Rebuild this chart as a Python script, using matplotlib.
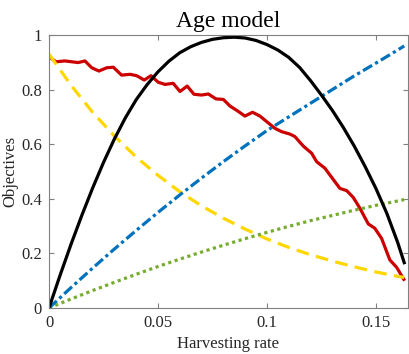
import matplotlib
matplotlib.use("Agg")
import matplotlib.pyplot as plt

plt.rcParams['font.family'] = ['Liberation Serif', 'DejaVu Serif']
plt.rcParams['mathtext.fontset'] = 'stix'

# ---- data ----
x_smooth = [0, 0.01, 0.02, 0.03, 0.04, 0.05, 0.06, 0.07, 0.08, 0.09,
            0.10, 0.11, 0.12, 0.13, 0.14, 0.15, 0.16, 0.163]
blue_vals = [0, 0.074, 0.146, 0.216, 0.284, 0.350, 0.414, 0.476, 0.536, 0.594,
             0.650, 0.700, 0.750, 0.800, 0.850, 0.897, 0.945, 0.960]
green_vals = [0, 0.0325, 0.064, 0.094, 0.1235, 0.152, 0.179, 0.205, 0.230, 0.254,
              0.277, 0.299, 0.320, 0.339, 0.358, 0.376, 0.392, 0.397]
yellow_vals = [0.93, 0.817, 0.717, 0.630, 0.553, 0.486, 0.426, 0.374, 0.329, 0.289,
               0.253, 0.222, 0.195, 0.172, 0.151, 0.132, 0.116, 0.112]

x_black = [0, 0.005, 0.01, 0.015, 0.02, 0.025, 0.03, 0.035, 0.04, 0.045, 0.05,
           0.055, 0.06, 0.065, 0.07, 0.075, 0.08, 0.085, 0.09, 0.095, 0.1,
           0.105, 0.11, 0.115, 0.12, 0.125, 0.13, 0.135, 0.14, 0.145, 0.15,
           0.155, 0.16, 0.163]
black_vals = [0, 0.118, 0.231, 0.338, 0.439, 0.533, 0.619, 0.696, 0.763, 0.818, 0.865,
              0.904, 0.935, 0.957, 0.973, 0.984, 0.990, 0.992, 0.989, 0.980, 0.965,
              0.945, 0.918, 0.881, 0.833, 0.780, 0.724, 0.662, 0.594, 0.519, 0.438,
              0.347, 0.240, 0.166]

x_red = [0, 0.0032, 0.0073, 0.0134, 0.0165, 0.0196, 0.0229, 0.0265, 0.0295, 0.0333,
         0.0372, 0.0402, 0.0437, 0.0468, 0.0501, 0.0532, 0.0570, 0.0601, 0.0634,
         0.0665, 0.0700, 0.0731, 0.0766, 0.0800, 0.0830, 0.0865, 0.0899, 0.0934,
         0.0968, 0.1003, 0.1037, 0.1067, 0.1106, 0.1128, 0.1167, 0.1205, 0.1228,
         0.1266, 0.1304, 0.1335, 0.1366, 0.1396, 0.1427, 0.1465, 0.1495, 0.1526,
         0.1564, 0.1595, 0.1628]
red_vals = [0.920, 0.902, 0.905, 0.899, 0.905, 0.880, 0.868, 0.880, 0.882, 0.853,
            0.856, 0.851, 0.835, 0.851, 0.827, 0.819, 0.823, 0.793, 0.813,
            0.783, 0.780, 0.784, 0.766, 0.764, 0.740, 0.722, 0.703, 0.717,
            0.703, 0.680, 0.658, 0.646, 0.637, 0.628, 0.593, 0.567, 0.536,
            0.512, 0.471, 0.438, 0.430, 0.405, 0.365, 0.308, 0.292, 0.255,
            0.176, 0.149, 0.105]

xticks = [0, 0.05, 0.1, 0.15]
xticklabels = ['0', '0.05', '0.1', '0.15']
yticks = [0, 0.2, 0.4, 0.6, 0.8, 1.0]
yticklabels = ['0', '0.2', '0.4', '0.6', '0.8', '1']

# ---- figure ----
fig = plt.figure(figsize=(4.09, 3.54), dpi=100)
ax = fig.add_axes([49/409, 46/354, 358.5/409, 273/354])

lw = 2.3
common = dict(lw=lw, solid_joinstyle='round', dash_joinstyle='round')
ax.plot(x_red, red_vals, color='#cc0000', zorder=2, **common)
ax.plot(x_smooth, yellow_vals, color='#ffd700', dashes=(4, 2.3), zorder=2.1, **common)
ax.plot(x_smooth, green_vals, color='#77ac30', dashes=(1, 1.1), zorder=2.2, **common)
ax.plot(x_smooth, blue_vals, color='#0072bd', dashes=(3.3, 1.1, 1.0, 1.1), zorder=2.3, **common)
ax.plot(x_black, black_vals, color='black', zorder=2.4, **common)

ax.set_xlim(0, 0.1645)
ax.set_ylim(0, 1)
ax.set_xticks(xticks)
ax.set_xticklabels(xticklabels)
ax.set_yticks(yticks)
ax.set_yticklabels(yticklabels)

axis_col = '#808080'
for s in ax.spines.values():
    s.set_color(axis_col)
    s.set_linewidth(0.8)
ax.tick_params(direction='in', length=3.5, width=0.8, color=axis_col,
               labelsize=12, labelcolor='#262626', top=True, right=True, pad=5)

ax.set_title('Age model', fontsize=17, color='black', pad=6)
ax.set_xlabel('Harvesting rate', fontsize=12, color='#262626', labelpad=4)
ax.set_ylabel('Objectives', fontsize=12, color='#262626', labelpad=2)

fig.savefig('out.png', dpi=100)
